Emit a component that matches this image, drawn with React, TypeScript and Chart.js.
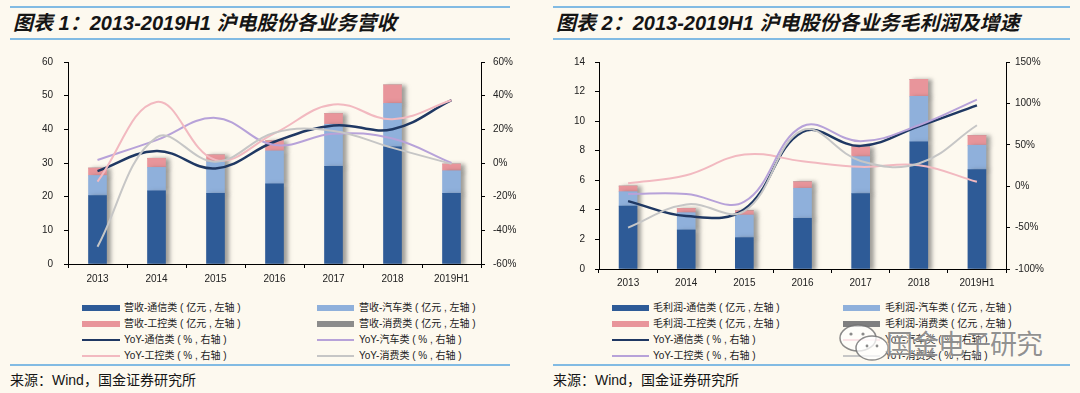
import React, { useEffect, useRef } from 'react';
import { Chart, registerables } from 'chart.js';

Chart.register(...registerables);

// ---------- data ----------
const categories = ['2013', '2014', '2015', '2016', '2017', '2018', '2019H1'];

// Chart 1: revenue by business (亿元, left axis)
const revTelecom = [20.3, 21.7, 21.0, 23.8, 29.0, 34.8, 21.0];
const revAuto = [6.0, 7.0, 9.4, 9.8, 12.5, 12.9, 6.7];
const revIndustrial = [2.2, 2.7, 2.0, 3.0, 3.2, 5.5, 2.0];
const revConsumer = [0, 0, 0, 0, 0, 0, 0];
// Chart 1: YoY (%, right axis)
const revYoyTelecom = [-4.8, 7.1, -3.2, 12.6, 22.3, 20.1, 37.3];
const revYoyAuto = [1.8, 13.6, 26.8, 10.7, 17.4, 14.5, 0.0];
const revYoyIndustrial = [-11.1, 36.3, 1.8, 17.6, 34.8, 26.0, 37.3];
const revYoyConsumer = [-49.7, 15.2, 0.8, 18.0, 19.0, 9.0, -0.5];

// Chart 2: gross profit by business (亿元, left axis)
const gpTelecom = [4.25, 2.64, 2.12, 3.43, 5.1, 8.6, 6.73];
const gpAuto = [0.98, 1.17, 1.53, 2.03, 2.5, 3.08, 1.64];
const gpIndustrial = [0.38, 0.29, 0.29, 0.44, 0.66, 1.15, 0.66];
const gpConsumer = [0, 0, 0, 0, 0, 0, 0];
// Chart 2: YoY (%, right axis)
const gpYoyTelecom = [-18, -36, -28, 65.6, 48.7, 72.4, 97.7];
const gpYoyAuto = [3.5, 13.3, 38.3, 30.2, 23.4, 25.4, 5.3];
const gpYoyIndustrial = [-9.4, -9.4, -18.7, 72.4, 54.3, 73.6, 104.6];
const gpYoyConsumer = [-50, -22, -30, 67.6, 30.5, 27.4, 73.6];

// axis ticks
const leftTicks1 = { min: 0, max: 60, step: 10 };
const rightTicks1 = { min: -60, max: 60, step: 20 };
const leftTicks2 = { min: 0, max: 14, step: 2 };
const rightTicks2 = { min: -100, max: 150, step: 50 };

const rev_bar_names = ['营收-通信类 ( 亿元 , 左轴 )', '营收-汽车类 ( 亿元 , 左轴 )', '营收-工控类 ( 亿元 , 左轴 )', '营收-消费类 ( 亿元 , 左轴 )'];
const gp_bar_names = ['毛利润-通信类 ( 亿元 , 左轴 )', '毛利润-汽车类 ( 亿元 , 左轴 )', '毛利润-工控类 ( 亿元 , 左轴 )', '毛利润-消费类 ( 亿元 , 左轴 )'];
const yoy_names = ['YoY-通信类 ( % , 右轴 )', 'YoY-汽车类 ( % , 右轴 )', 'YoY-工控类 ( % , 右轴 )', 'YoY-消费类 ( % , 右轴 )'];

// ---------- styles ----------
const BG = '#fdf9ef';
const RULE = '#82bbe3';
const BAR1 = ['#2e5b97', '#8fb0db', '#e8959b', '#8c8c8c'];
const BAR2 = ['#2e5b97', '#8fb0db', '#e8959b', '#7f7f7f'];
const LINE1 = ['#1f3863', '#b7a2d9', '#f2b9c0', '#c6c6c6'];
const LINE2 = ['#1f3863', '#f2b9c0', '#b7a2d9', '#c6c6c6'];
const LINEW = [2.5, 2, 2, 2];
const TICK_FONT = { family: '"Liberation Sans", Arial, sans-serif', size: 10 };

const barShadow = {
  id: 'barShadow',
  beforeDatasetDraw(chart: any, args: any) {
    if (args.meta.type === 'bar') {
      const ctx = chart.ctx;
      ctx.save();
      ctx.shadowColor = 'rgba(70,70,70,0.5)';
      ctx.shadowBlur = 4;
      ctx.shadowOffsetX = 4;
      ctx.shadowOffsetY = 1;
    }
  },
  afterDatasetDraw(chart: any, args: any) {
    if (args.meta.type === 'bar') chart.ctx.restore();
  },
};

interface Geo {
  leftW: number; rightW: number; top: number; xH: number;
  xPad: number; lPad: number; rPad: number;
}

function buildConfig(bars: number[][], lines: number[][], barColors: string[], lineColors: string[],
  barNames: string[], lt: any, rt: any, g: Geo): any {
  const datasets: any[] = [];
  bars.forEach((d, i) => datasets.push({
    type: 'bar', label: barNames[i], data: d, backgroundColor: barColors[i], borderWidth: 0,
    yAxisID: 'y', stack: 's', order: 2, barThickness: 18,
  }));
  lines.forEach((d, i) => datasets.push({
    type: 'line', label: yoy_names[i], data: d, borderColor: lineColors[i], borderWidth: LINEW[i],
    pointRadius: 0, tension: 0.4, yAxisID: 'y1', order: 1 - i * 0.01, fill: false,
  }));
  const axisGrid = { display: true, drawOnChartArea: false, drawTicks: true, tickLength: 4, color: '#000', lineWidth: 1 };
  return {
    type: 'bar',
    data: { labels: categories, datasets },
    plugins: [barShadow],
    options: {
      responsive: false,
      animation: false,
      layout: { padding: { top: g.top, left: 0, right: 0, bottom: 0 } },
      plugins: { legend: { display: false }, tooltip: { enabled: false }, title: { display: false } },
      scales: {
        x: {
          stacked: true,
          grid: { ...axisGrid, offset: true },
          border: { display: true, color: '#000', width: 1 },
          ticks: { font: TICK_FONT, color: '#222', padding: g.xPad, maxRotation: 0 },
          afterFit: (s: any) => { s.height = g.xH; },
        },
        y: {
          position: 'left', stacked: true, min: lt.min, max: lt.max,
          grid: axisGrid,
          border: { display: true, color: '#000', width: 1 },
          ticks: { stepSize: lt.step, font: TICK_FONT, color: '#222', padding: g.lPad },
          afterFit: (s: any) => { s.width = g.leftW; },
        },
        y1: {
          position: 'right', stacked: false, min: rt.min, max: rt.max,
          grid: axisGrid,
          border: { display: true, color: '#000', width: 1 },
          ticks: { stepSize: rt.step, font: TICK_FONT, color: '#222', padding: g.rPad, callback: (v: any) => v + '%' },
          afterFit: (s: any) => { s.width = g.rightW; },
        },
      },
    },
  };
}

function ChartCanvas({ config, left, top, width, height }: any) {
  const ref = useRef<HTMLCanvasElement | null>(null);
  useEffect(() => {
    if (!ref.current) return;
    const c = new Chart(ref.current, config);
    return () => c.destroy();
  }, []);
  return (
    <canvas ref={ref} width={width} height={height}
      style={{ position: 'absolute', left, top, width, height }} />
  );
}

const legendFont = '"Liberation Sans", "Noto Sans CJK SC", sans-serif';

function Legend({ items, cols }: any) {
  const rowsY = [308, 324, 340, 356];
  return (
    <>
      {items.map((it: any, i: number) => {
        const row = Math.floor(i / 2);
        const col = cols[i % 2];
        const y = rowsY[row];
        const h = it.kind === 'bar' ? 6 : it.thick;
        return (
          <React.Fragment key={i}>
            <div style={{ position: 'absolute', left: col.sx, top: y - h / 2, width: col.sw, height: h, background: it.color }} />
            <div style={{ position: 'absolute', left: col.tx, top: y - 7, height: 14, lineHeight: '14px', fontSize: 10, fontFamily: legendFont, color: '#222', whiteSpace: 'nowrap' }}>{it.label}</div>
          </React.Fragment>
        );
      })}
    </>
  );
}

function Panel({ x, w, title }: any) {
  return (
    <>
      <div style={{ position: 'absolute', left: x, top: 6, width: w, height: 2, background: RULE }} />
      <div style={{ position: 'absolute', left: x + 3, top: 10, height: 26, lineHeight: '26px', fontSize: 20, fontWeight: 'bold', fontStyle: 'italic', fontFamily: '"Liberation Sans", "Noto Sans CJK SC", sans-serif', color: '#151515', whiteSpace: 'nowrap' }}>{title}</div>
      <div style={{ position: 'absolute', left: x, top: 38, width: w, height: 2, background: RULE }} />
      <div style={{ position: 'absolute', left: x, top: 364, width: w, height: 2, background: RULE }} />
      <div style={{ position: 'absolute', left: x, top: 371, height: 18, lineHeight: '18px', fontSize: 14, fontFamily: '"Liberation Sans", "Noto Sans CJK SC", sans-serif', color: '#151515', whiteSpace: 'nowrap' }}>来源：Wind，国金证券研究所</div>
    </>
  );
}

export default function App() {
  useEffect(() => {
    document.body.style.margin = '0';
    document.body.style.background = BG;
  }, []);

  const cfg1 = buildConfig([revTelecom, revAuto, revIndustrial, revConsumer],
    [revYoyTelecom, revYoyAuto, revYoyIndustrial, revYoyConsumer], BAR1, LINE1, rev_bar_names,
    leftTicks1, rightTicks1, { leftW: 68, rightW: 59, top: 17, xH: 31, xPad: 5, lPad: 11, rPad: 8 });
  const cfg2 = buildConfig([gpTelecom, gpAuto, gpIndustrial, gpConsumer],
    [gpYoyTelecom, gpYoyAuto, gpYoyIndustrial, gpYoyConsumer], BAR2, LINE2, gp_bar_names,
    leftTicks2, rightTicks2, { leftW: 59, rightW: 74, top: 17, xH: 26, xPad: 4, lPad: 10, rPad: 5 });

  const legend1 = [
    { label: rev_bar_names[0], color: BAR1[0], kind: 'bar' },
    { label: rev_bar_names[1], color: BAR1[1], kind: 'bar' },
    { label: rev_bar_names[2], color: BAR1[2], kind: 'bar' },
    { label: rev_bar_names[3], color: BAR1[3], kind: 'bar' },
    { label: yoy_names[0], color: LINE1[0], kind: 'line', thick: 2 },
    { label: yoy_names[1], color: LINE1[1], kind: 'line', thick: 2 },
    { label: yoy_names[2], color: LINE1[2], kind: 'line', thick: 2 },
    { label: yoy_names[3], color: LINE1[3], kind: 'line', thick: 2 },
  ];
  const legend2 = [
    { label: gp_bar_names[0], color: BAR2[0], kind: 'bar' },
    { label: gp_bar_names[1], color: BAR2[1], kind: 'bar' },
    { label: gp_bar_names[2], color: BAR2[2], kind: 'bar' },
    { label: gp_bar_names[3], color: BAR2[3], kind: 'bar' },
    { label: yoy_names[0], color: LINE2[0], kind: 'line', thick: 2 },
    { label: yoy_names[1], color: LINE2[1], kind: 'line', thick: 2 },
    { label: yoy_names[2], color: LINE2[2], kind: 'line', thick: 2 },
    { label: yoy_names[3], color: LINE2[3], kind: 'line', thick: 2 },
  ];

  return (
    <div style={{ position: 'relative', width: 1080, height: 393, background: BG, overflow: 'hidden' }}>
      <Panel x={10} w={500} title="图表 1：2013-2019H1 沪电股份各业务营收" />
      <Panel x={553} w={517} title="图表 2：2013-2019H1 沪电股份各业务毛利润及增速" />
      <ChartCanvas config={cfg1} left={0} top={45} width={540} height={250} />
      <ChartCanvas config={cfg2} left={540} top={45} width={540} height={250} />
      <Legend items={legend1} cols={[{ sx: 82, sw: 38, tx: 124 }, { sx: 317, sw: 37, tx: 359 }]} />
      <Legend items={legend2} cols={[{ sx: 612, sw: 37, tx: 653 }, { sx: 843, sw: 37, tx: 885 }]} />
      {/* watermark */}
      <svg style={{ position: 'absolute', left: 836, top: 322 }} width={60} height={42}>
        <ellipse cx={22} cy={16} rx={18} ry={13} fill="rgba(255,255,255,0.6)" stroke="rgba(110,110,110,0.8)" strokeWidth={1.5} />
        <ellipse cx={36} cy={26} rx={16} ry={12} fill="rgba(255,255,255,0.75)" stroke="rgba(110,110,110,0.8)" strokeWidth={1.5} />
        <circle cx={15} cy={12} r={1.6} fill="rgba(110,110,110,0.8)" />
        <circle cx={27} cy={12} r={1.6} fill="rgba(110,110,110,0.8)" />
        <circle cx={31} cy={24} r={1.4} fill="rgba(110,110,110,0.8)" />
        <circle cx={41} cy={24} r={1.4} fill="rgba(110,110,110,0.8)" />
      </svg>
      <div style={{ position: 'absolute', left: 886, top: 326, height: 34, lineHeight: '34px', fontSize: 27, fontWeight: 400, fontFamily: '"Noto Sans CJK SC", sans-serif', color: 'rgba(125,125,125,0.85)', letterSpacing: -1, whiteSpace: 'nowrap', textShadow: '0 0 2px rgba(255,255,255,0.95)' }}>国金电子研究</div>
    </div>
  );
}
